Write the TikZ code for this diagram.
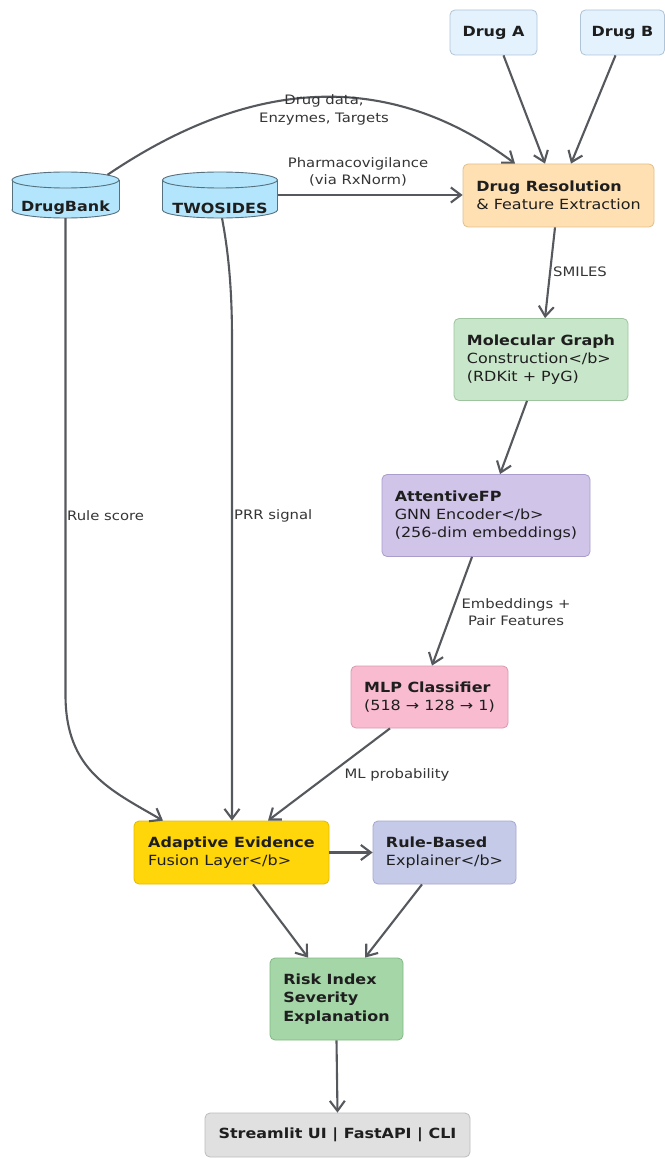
\documentclass[tikz,border=0pt]{standalone}
\usepackage{fontspec}
\setmainfont{DejaVu Sans}[FakeStretch=1.14]
\usetikzlibrary{arrows.meta,calc}
\definecolor{arr}{HTML}{55595D}
\definecolor{txt}{HTML}{1E1E1E}
\definecolor{drugfill}{HTML}{E3F2FD}\definecolor{drugline}{HTML}{B0C4D8}
\definecolor{resfill}{HTML}{FFE0B2}\definecolor{resline}{HTML}{E2BF8C}
\definecolor{molfill}{HTML}{C8E6C9}\definecolor{molline}{HTML}{9DC49F}
\definecolor{attfill}{HTML}{D1C4E9}\definecolor{attline}{HTML}{AB9DCB}
\definecolor{mlpfill}{HTML}{F8BBD0}\definecolor{mlpline}{HTML}{D99AB0}
\definecolor{aefill}{HTML}{FFD60A}\definecolor{aeline}{HTML}{E3BB00}
\definecolor{rbfill}{HTML}{C5CAE9}\definecolor{rbline}{HTML}{A2A8CE}
\definecolor{riskfill}{HTML}{A5D6A7}\definecolor{riskline}{HTML}{82B984}
\definecolor{stfill}{HTML}{E0E0E0}\definecolor{stline}{HTML}{BDBDBD}
\definecolor{cylfill}{HTML}{B3E5FC}\definecolor{cylline}{HTML}{56707E}
\tikzset{
  boxbase/.style={rectangle, rounded corners=5pt, line width=0.8pt, align=left,
    inner xsep=0pt, inner ysep=0pt, text=txt,
    font=\fontsize{14}{18.3}\selectfont},
  colbox/.style 2 args={boxbase, fill=#1, draw=#2},
  ghost/.style={rectangle, draw=none, inner sep=0pt},
  cyltext/.style={font=\fontsize{14}{18}\selectfont\bfseries, text=txt, inner sep=0pt},
  elabel/.style={font=\fontsize{13}{17.5}\selectfont, text=txt!90, align=center, inner sep=0pt},
  flow/.style={draw=arr, line width=2.1pt, -{Straight Barb[length=10pt,width=15pt,line width=2.1pt]}},
}
\begin{document}
\begin{tikzpicture}[x=1pt,y=-1pt]
\useasboundingbox (0,0) rectangle (664,1158);
\fill[white] (0,0) rectangle (664,1158);

% cylinders
\foreach \cx/\hw in {65.5/53.5, 220/57.5}{
  \filldraw[fill=cylfill, draw=cylline, line width=0.9pt] (\cx,210) ellipse ({\hw} and 8);
  \fill[cylfill] ({\cx-\hw},180) rectangle ({\cx+\hw},210);
  \draw[cylline, line width=0.9pt] ({\cx-\hw},180) -- ({\cx-\hw},210) ({\cx+\hw},180) -- ({\cx+\hw},210);
  \filldraw[fill=cylfill, draw=cylline, line width=0.9pt] (\cx,180) ellipse ({\hw} and 8);
}
\node[ghost, minimum width=107pt, minimum height=46pt] (db) at (65.5,195) {};
\node[ghost, minimum width=115pt, minimum height=46pt] (ts) at (220,195) {};
\node[cyltext] (dbl) at (65.5,208) {DrugBank};
\node[cyltext] (tsl) at (220,208) {TWOSIDES};

% boxes
\node[colbox={drugfill}{drugline}, minimum width=87pt, minimum height=45pt] (da) at (493.5,32.5) {\textbf{Drug A}};
\node[colbox={drugfill}{drugline}, minimum width=84pt, minimum height=45pt] (dbB) at (622.5,32.5) {\textbf{Drug B}};
\node[colbox={resfill}{resline}, minimum width=191pt, minimum height=63pt] (dr) at (558.5,195.5) {\textbf{Drug Resolution}\\\& Feature Extraction};
\node[colbox={molfill}{molline}, minimum width=174pt, minimum height=82pt] (mg) at (541,359.5) {\textbf{Molecular Graph}\\Construction</b>\\(RDKit + PyG)};
\node[colbox={attfill}{attline}, minimum width=208pt, minimum height=82pt] (afp) at (486,515.5) {\textbf{AttentiveFP}\\GNN Encoder</b>\\(256-dim embeddings)};
\node[colbox={mlpfill}{mlpline}, minimum width=157pt, minimum height=62pt] (mlp) at (429.5,697) {\textbf{MLP Classifier}\\(518 → 128 → 1)};
\node[colbox={aefill}{aeline}, minimum width=195pt, minimum height=63pt] (ae) at (231.5,852.5) {\textbf{Adaptive Evidence}\\Fusion Layer</b>};
\node[colbox={rbfill}{rbline}, minimum width=143pt, minimum height=63pt] (rb) at (444.5,852.5) {\textbf{Rule-Based}\\Explainer</b>};
\node[colbox={riskfill}{riskline}, minimum width=133pt, minimum height=82pt] (risk) at (336.5,999) {\textbf{Risk Index}\\\textbf{Severity}\\\textbf{Explanation}};
\node[colbox={stfill}{stline}, minimum width=265pt, minimum height=44pt] (st) at (337.5,1135) {\textbf{Streamlit UI | FastAPI | CLI}};

% connectors
\draw[flow] ($(da.south)+(10,0)$) -- ($(dr.north)+(-13.5,0)$);
\draw[flow] ($(dbB.south)+(-7,0)$) -- ($(dr.north)+(12.5,0)$);
\draw[flow] ($(db.north)+(42,3)$) .. controls (255,75) and (391,71) .. ($(dr.north)+(-43.5,0)$);
\node[elabel] (l1) at (324,110) {Drug data,\\Enzymes, Targets};
\draw[flow] (ts.east) -- (ts.east -| dr.west);
\node[elabel] (l2) at (358,172) {Pharmacovigilance\\(via RxNorm)};
\draw[flow] ($(dr.south)+(-3.5,0)$) -- ($(mg.north)+(4,0)$);
\node[elabel] (l3) at (580,272) {SMILES};
\draw[flow] ($(mg.south)+(-14,0)$) -- ($(afp.north)+(14,0)$);
\draw[flow] ($(afp.south)+(-14,0)$) -- ($(mlp.north)+(2.5,0)$);
\node[elabel] (l4) at (516,612) {Embeddings +\\Pair Features};
\draw[flow] ($(mlp.south)+(-39.5,0)$) -- ($(ae.north)+(36.5,0)$);
\node[elabel] (l5) at (397,775) {ML probability};
\coordinate (dbbend) at (65.5,695);
\draw[flow] (db.south) -- (dbbend) .. controls (65.5,770) and (110,790) .. ($(ae.north)+(-68.5,0)$);
\node[elabel, anchor=west] (l6) at (67,516) {Rule score};
\coordinate (tsbend) at (232,340);
\draw[flow] ($(ts.south)+(2,0)$) .. controls (230,260) and (232,300) .. (tsbend) -- (tsbend |- ae.north);
\node[elabel, anchor=west] (l7) at (234,516) {PRR signal};
\draw[flow] (ae.east) -- (rb.west);
\draw[flow] ($(ae.south)+(21.5,0)$) -- ($(risk.north)+(-28.5,0)$);
\draw[flow] ($(rb.south)+(-22.5,0)$) -- ($(risk.north)+(28.5,0)$);
\draw[flow] (risk.south) -- (st.north);
\end{tikzpicture}
\end{document}
